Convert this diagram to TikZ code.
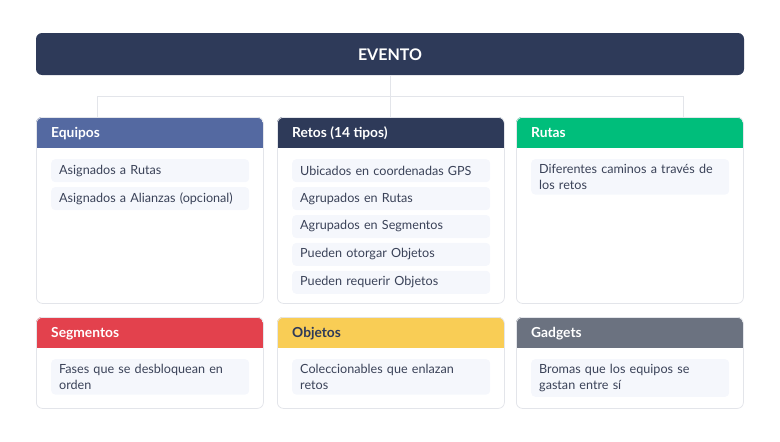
\documentclass[tikz,border=0pt]{standalone}
\usepackage{fontspec}
\setmainfont{Lato}
\usetikzlibrary{positioning}

\definecolor{navy}{HTML}{2E3A59}
\definecolor{eqblue}{HTML}{5469A1}
\definecolor{rutgreen}{HTML}{00BE7B}
\definecolor{segred}{HTML}{E3414D}
\definecolor{objyellow}{HTML}{F9CD55}
\definecolor{gadgray}{HTML}{6B7280}
\definecolor{itembg}{HTML}{F5F7FC}
\definecolor{itemtext}{HTML}{3A4258}
\definecolor{edgegray}{HTML}{E3E5EA}

% card with coloured header: name, x, y, height, colour, title, title colour
\newcommand{\card}[7]{%
  \begin{scope}
    \clip[rounded corners=6pt] (#2,#3) rectangle ++(227,#4);
    \fill[#5] (#2,#3) rectangle ++(227,31);
  \end{scope}
  \node[cardbox, minimum height=#4pt, anchor=north west] (#1) at (#2,#3) {};
  \node[cardtitle, text=#7, anchor=base west] (#1-title) at (#2+15,#3+20.5) {#6};
}

\begin{document}
\begin{tikzpicture}
[x=1pt, y=-1pt,
    evento/.style={fill=navy, rounded corners=6pt, text=white,
    font=\fontsize{16}{19}\selectfont\bfseries,
    minimum width=708pt, minimum height=42pt},
    cardbox/.style={draw=edgegray, line width=0.8pt, rounded corners=6pt,
    minimum width=227pt, inner sep=0pt},
    cardtitle/.style={font=\fontsize{13.8}{16}\selectfont\bfseries, inner sep=0pt},
    item/.style={fill=itembg, rounded corners=4pt, text=itemtext,
    text width=182pt, inner xsep=8pt, inner ysep=5pt, minimum height=23pt,
    align=left, font=\fontsize{12.6}{16}\selectfont},
    link/.style={draw=edgegray, line width=1pt},
    ]
    \useasboundingbox (0,0) rectangle (780,442);

    \node (evento) [evento] at (390,54) {};
    \node (evento-title) [font=\fontsize{16}{19}\selectfont\bfseries, text=white, anchor=base]
      at (390,60.5) {EVENTO};

    % connectors
    \draw[link] (evento.south) -- (390,117);
    \draw[link] (97,117) -- (97,96) -- (683,96) -- (683,117);

    % top row
    \card{equipos}{36}{117}{186}{eqblue}{Equipos}{white}
    \card{retos}{277}{117}{186}{navy}{Retos (14 tipos)}{white}
    \card{rutas}{516}{117}{186}{rutgreen}{Rutas}{white}

    \node (eq1) [item, anchor=north west] at (51,159) {Asignados a Rutas};
    \node (eq2) [item, below=4.5pt of eq1] {Asignados a Alianzas (opcional)};

    \node (re1) [item, anchor=north west] at (292,159) {Ubicados en coordenadas GPS};
    \node (re2) [item, below=4.5pt of re1] {Agrupados en Rutas};
    \node (re3) [item, below=4.5pt of re2] {Agrupados en Segmentos};
    \node (re4) [item, below=4.5pt of re3] {Pueden otorgar Objetos};
    \node (re5) [item, below=4.5pt of re4] {Pueden requerir Objetos};

    \node (ru1) [item, anchor=north west] at (531,159) {Diferentes caminos a través de\\los retos};

    % bottom row
    \card{segmentos}{36}{317}{91}{segred}{Segmentos}{white}
    \card{objetos}{277}{317}{91}{objyellow}{Objetos}{navy}
    \card{gadgets}{516}{317}{91}{gadgray}{Gadgets}{white}

    \node (se1) [item, anchor=north west] at (51,359) {Fases que se desbloquean en\\orden};
    \node (ob1) [item, anchor=north west] at (292,359) {Coleccionables que enlazan\\retos};
    \node (ga1) [item, anchor=north west] at (531,359) {Bromas que los equipos se\\gastan entre sí};

\end{tikzpicture}
\end{document}
